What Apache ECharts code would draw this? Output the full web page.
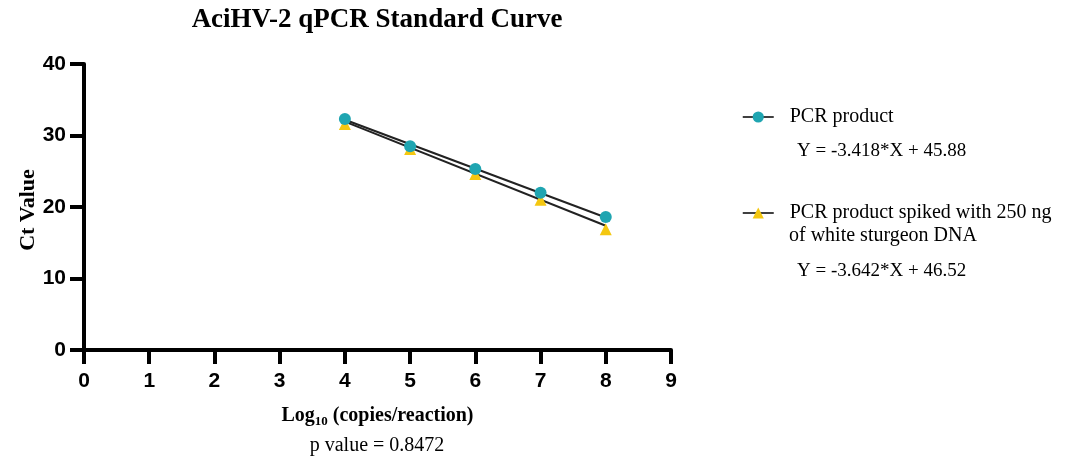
<!DOCTYPE html>
<html>
<head>
<meta charset="utf-8">
<script src="https://cdn.jsdelivr.net/npm/echarts@6/dist/echarts.min.js"></script>
<style>html,body{margin:0;padding:0;background:#fff}#c{width:1068px;height:460px}</style>
</head>
<body>
<div id="c"></div>
<script>
// Data
const xValues = [4, 5, 6, 7, 8];
const pcrCt = [32.3, 28.5, 25.3, 22.0, 18.6];
const spikedCt = [31.6, 28.1, 24.6, 21.0, 16.9];
// Regression line endpoints (x = 4 and x = 8), from the printed equations
const fitX = [4, 8];
const pcrFit = [32.21, 18.54];
const spikedFit = [31.95, 17.38];
const seriesNames = ['PCR product', 'PCR product spiked with 250 ng of white sturgeon DNA'];
const equations = ['Y = -3.418*X + 45.88', 'Y = -3.642*X + 46.52'];
const xTicks = [0, 1, 2, 3, 4, 5, 6, 7, 8, 9];
const yTicks = [0, 10, 20, 30, 40];

const teal = '#1fa5b1';
const yellow = '#f4c710';
const serif = '"Liberation Serif", "Times New Roman", serif';
const sans = '"Liberation Sans", Arial, sans-serif';

const pair = (xs, ys) => xs.map((x, i) => [x, ys[i]]);

const chart = echarts.init(document.getElementById('c'));
chart.setOption({
  animation: false,
  backgroundColor: '#fff',
  grid: { left: 84, right: 397, top: 64, bottom: 110, containLabel: false },
  xAxis: {
    type: 'value', min: 0, max: 9, interval: 1,
    name: '{b|Log}{s|10}{b| (copies/reaction)}',
    nameLocation: 'middle', nameGap: 54,
    nameTextStyle: {
      rich: {
        b: { fontFamily: serif, fontWeight: 'bold', fontSize: 20, color: '#000', lineHeight: 24, verticalAlign: 'middle' },
        s: { fontFamily: serif, fontWeight: 'bold', fontSize: 13, color: '#000', lineHeight: 24, verticalAlign: 'bottom', padding: [9, 0, 0, 0] }
      }
    },
    axisLine: { onZero: false, lineStyle: { color: '#000', width: 4 } },
    axisTick: { show: true, length: 14, lineStyle: { color: '#000', width: 4 } },
    axisLabel: { fontFamily: sans, fontWeight: 'bold', fontSize: 21, color: '#000', margin: 21,
      formatter: v => xTicks.includes(v) ? String(v) : '' },
    splitLine: { show: false }
  },
  yAxis: {
    type: 'value', min: 0, max: 40, interval: 10,
    axisLine: { show: true, onZero: false, lineStyle: { color: '#000', width: 4 } },
    axisTick: { show: true, length: 14, lineStyle: { color: '#000', width: 4 } },
    axisLabel: { fontFamily: sans, fontWeight: 'bold', fontSize: 21, color: '#000', margin: 18,
      formatter: v => yTicks.includes(v) ? String(v) : '' },
    splitLine: { show: false }
  },
  legend: {
    orient: 'vertical', left: 737, top: 102, itemWidth: 31, itemHeight: 14, itemGap: 76,
    data: seriesNames,
    formatter: n => n === seriesNames[1] ? 'PCR product spiked with 250 ng' : n,
    textStyle: { fontFamily: serif, fontSize: 20, color: '#000', padding: [0, 0, 0, 11] },
    lineStyle: { color: '#000', width: 1.5, opacity: 1 },
    selectedMode: false
  },
  graphic: [
    { type: 'text', x: 377, y: 20, style: { text: 'AciHV-2 qPCR Standard Curve', font: 'bold 27px ' + serif, fill: '#000', align: 'center', verticalAlign: 'middle' } },
    { type: 'text', x: 28, y: 210, rotation: Math.PI / 2, style: { text: 'Ct Value', font: 'bold 22px ' + serif, fill: '#000', align: 'center', verticalAlign: 'middle' } },
    { type: 'text', x: 789, y: 236, style: { text: 'of white sturgeon DNA', font: '20px ' + serif, fill: '#000', verticalAlign: 'middle' } },
    { type: 'text', x: 797, y: 151, style: { text: equations[0], font: '19px ' + serif, fill: '#000', verticalAlign: 'middle' } },
    { type: 'text', x: 797, y: 271, style: { text: equations[1], font: '19px ' + serif, fill: '#000', verticalAlign: 'middle' } },
    { type: 'text', x: 377, y: 446, style: { text: 'p value = 0.8472', font: '20px ' + serif, fill: '#000', align: 'center', verticalAlign: 'middle' } }
  ],
  series: [
    { name: 'fit1', type: 'line', data: pair(fitX, pcrFit), symbol: 'none', silent: true,
      lineStyle: { color: '#222', width: 2 }, z: 2 },
    { name: 'fit2', type: 'line', data: pair(fitX, spikedFit), symbol: 'none', silent: true,
      lineStyle: { color: '#222', width: 2 }, z: 2 },
    { name: seriesNames[1], type: 'line', data: pair(xValues, spikedCt), symbol: 'triangle', symbolSize: 12,
      itemStyle: { color: yellow }, lineStyle: { color: '#000', width: 1.5, opacity: 0 }, z: 3 },
    { name: seriesNames[0], type: 'line', data: pair(xValues, pcrCt), symbol: 'circle', symbolSize: 12,
      itemStyle: { color: teal }, lineStyle: { color: '#000', width: 1.5, opacity: 0 }, z: 4 }
  ]
});
</script>
</body>
</html>
